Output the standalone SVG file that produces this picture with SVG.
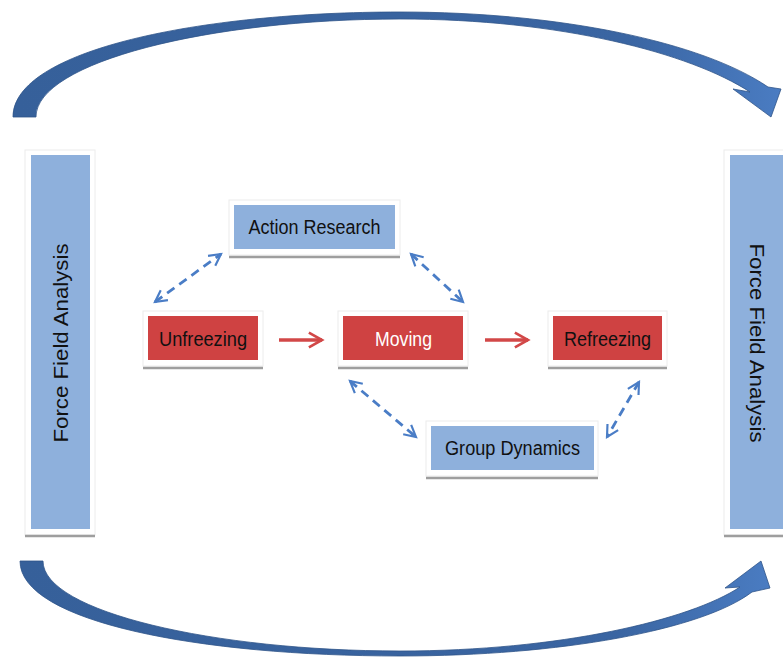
<svg xmlns="http://www.w3.org/2000/svg" width="783" height="658" viewBox="0 0 783 658">
<defs>
<style>
.frame{fill:#ffffff;stroke:#ececec;stroke-width:1}
.shadow{stroke:#9e9e9e;stroke-width:2.5}
.blue{fill:#8eb0dc}
.red{fill:#cf4242}
.lbl{font-family:"Liberation Sans",Arial,sans-serif;font-size:20px;fill:#111}
.arc{fill:#3a64a0;stroke:#2e5489;stroke-width:0.8}
.dash{fill:none;stroke:#4a7dc6;stroke-width:2.8;stroke-dasharray:9 6}
.solid{fill:none;stroke:#d24848;stroke-width:3.5}
</style>
<marker id="bh" viewBox="0 0 10 10" refX="8.5" refY="5" markerWidth="5.5" markerHeight="5.5" orient="auto-start-reverse" markerUnits="strokeWidth">
<path d="M1,1 L8.5,5 L1,9" fill="none" stroke="#4a7dc6" stroke-width="1.4"/>
</marker>
<marker id="rh" viewBox="0 0 10 10" refX="8.5" refY="5" markerWidth="5" markerHeight="5" orient="auto" markerUnits="strokeWidth">
<path d="M1,0.8 L8.5,5 L1,9.2" fill="none" stroke="#d24848" stroke-width="1.5"/>
</marker>
<linearGradient id="ag" x1="0" y1="0" x2="1" y2="0">
<stop offset="0" stop-color="#36609a"/>
<stop offset="0.8" stop-color="#3a65a2"/>
<stop offset="1" stop-color="#4a7cc2"/>
</linearGradient>
</defs>

<g id="connectors">
<path class="arc" style="fill:url(#ag)" d="M13,117 C13,50 200,12 400,12 C560,12 702,42 768,87 L781,89 L771,117 L733,89 L750,92 C690,53 560,19 400,19 C210,19 36,62 36,117 Z"/>
<path class="arc" style="fill:url(#ag)" d="M20,561 C20,622 200,656 400,656 C560,656 702,630 752,592 L770,588 L761,561 L725,588 L740,587 C690,620 560,651 400,651 C215,651 43,612 43,561 Z"/>
<line class="dash" x1="155" y1="302" x2="221" y2="254" marker-start="url(#bh)" marker-end="url(#bh)"/>
<line class="dash" x1="411" y1="254" x2="463" y2="302" marker-start="url(#bh)" marker-end="url(#bh)"/>
<line class="dash" x1="350" y1="381" x2="416" y2="437" marker-start="url(#bh)" marker-end="url(#bh)"/>
<line class="dash" x1="639" y1="382" x2="607" y2="437" marker-start="url(#bh)" marker-end="url(#bh)"/>
<line class="solid" x1="279" y1="340" x2="322" y2="340" marker-end="url(#rh)"/>
<line class="solid" x1="485" y1="340" x2="528" y2="340" marker-end="url(#rh)"/>
</g>

<g id="ffa-left">
<rect class="frame" x="25" y="150" width="70" height="385"/>
<line class="shadow" x1="25" y1="536" x2="95" y2="536"/>
<rect class="blue" x="31" y="155" width="59" height="374"/>
<text class="lbl" transform="translate(68,343) rotate(-90)" text-anchor="middle" style="font-size:21px" textLength="199" lengthAdjust="spacingAndGlyphs">Force Field Analysis</text>
</g>

<g id="ffa-right">
<rect class="frame" x="724" y="150" width="70" height="385"/>
<line class="shadow" x1="724" y1="536" x2="783" y2="536"/>
<rect class="blue" x="730" y="155" width="60" height="374"/>
<text class="lbl" transform="translate(750,343) rotate(90)" text-anchor="middle" style="font-size:21px" textLength="199" lengthAdjust="spacingAndGlyphs">Force Field Analysis</text>
</g>

<g id="action-research">
<rect class="frame" x="229" y="200" width="171" height="55"/>
<line class="shadow" x1="229" y1="257" x2="400" y2="257"/>
<rect class="blue" x="234" y="205" width="161" height="44"/>
<text class="lbl" x="314.5" y="234" text-anchor="middle" textLength="132" lengthAdjust="spacingAndGlyphs">Action Research</text>
</g>

<g id="unfreezing">
<rect class="frame" x="143" y="311" width="120" height="55"/>
<line class="shadow" x1="143" y1="368" x2="263" y2="368"/>
<rect class="red" x="148" y="316" width="110" height="44"/>
<text class="lbl" x="203" y="346" text-anchor="middle" textLength="88" lengthAdjust="spacingAndGlyphs">Unfreezing</text>
</g>

<g id="moving">
<rect class="frame" x="338" y="311" width="130" height="55"/>
<line class="shadow" x1="338" y1="368" x2="468" y2="368"/>
<rect class="red" x="343" y="316" width="120" height="44"/>
<text class="lbl" x="403.5" y="346" text-anchor="middle" style="fill:#ffffff" textLength="57" lengthAdjust="spacingAndGlyphs">Moving</text>
</g>

<g id="refreezing">
<rect class="frame" x="548" y="311" width="119" height="55"/>
<line class="shadow" x1="548" y1="368" x2="667" y2="368"/>
<rect class="red" x="553" y="316" width="109" height="44"/>
<text class="lbl" x="607.5" y="346" text-anchor="middle" textLength="87" lengthAdjust="spacingAndGlyphs">Refreezing</text>
</g>

<g id="group-dynamics">
<rect class="frame" x="426" y="421" width="172" height="55"/>
<line class="shadow" x1="426" y1="478" x2="598" y2="478"/>
<rect class="blue" x="431" y="426" width="163" height="44"/>
<text class="lbl" x="512.5" y="455" text-anchor="middle" textLength="135" lengthAdjust="spacingAndGlyphs">Group Dynamics</text>
</g>
</svg>
